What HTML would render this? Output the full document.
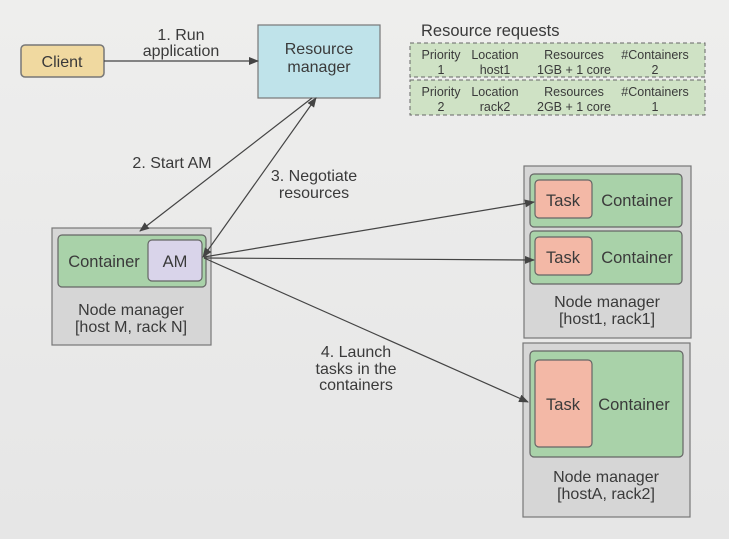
<!DOCTYPE html>
<html><head><style>
html,body{margin:0;padding:0;background:#ebebeb;}
svg{display:block;font-family:"Liberation Sans",sans-serif;}
</style></head><body>
<svg width="729" height="539" viewBox="0 0 729 539">
<defs>
<linearGradient id="bg" x1="0" y1="0" x2="0" y2="1"><stop offset="0" stop-color="#eeeeed"/><stop offset="1" stop-color="#e6e6e6"/></linearGradient>
<marker id="ar" markerWidth="10" markerHeight="8" refX="9" refY="4" orient="auto" markerUnits="userSpaceOnUse"><path d="M0,0 L10,4 L0,8 z" fill="#444"/></marker>
<marker id="as" markerWidth="10" markerHeight="8" refX="1" refY="4" orient="auto" markerUnits="userSpaceOnUse"><path d="M10,0 L0,4 L10,8 z" fill="#444"/></marker>
</defs>
<rect width="729" height="539" fill="url(#bg)"/>
<g font-size="16" fill="#3a3a3a" text-anchor="middle">
<rect x="21" y="45" width="83" height="32" rx="4" fill="#f0d9a0" stroke="#777" stroke-width="1.5"/>
<text x="62" y="67">Client</text>
<rect x="258" y="25" width="122" height="73" fill="#bfe3ea" stroke="#777" stroke-width="1.2"/>
<text x="319" y="54">Resource</text><text x="319" y="72">manager</text>
<line x1="104" y1="61" x2="258" y2="61" stroke="#444" stroke-width="1.2" marker-end="url(#ar)"/>
<text x="181" y="40">1. Run</text><text x="181" y="56">application</text>
<text x="421" y="36" text-anchor="start" font-size="16.5">Resource requests</text>
<g font-size="12.5">
<rect x="410" y="43" width="295" height="34" fill="#cfe2c5" stroke="#666" stroke-dasharray="4,3"/>
<rect x="410" y="80" width="295" height="35" fill="#cfe2c5" stroke="#666" stroke-dasharray="4,3"/>
<text x="441" y="59">Priority</text><text x="495" y="59">Location</text><text x="574" y="59">Resources</text><text x="655" y="59">#Containers</text>
<text x="441" y="74">1</text><text x="495" y="74">host1</text><text x="574" y="74">1GB + 1 core</text><text x="655" y="74">2</text>
<text x="441" y="96">Priority</text><text x="495" y="96">Location</text><text x="574" y="96">Resources</text><text x="655" y="96">#Containers</text>
<text x="441" y="111">2</text><text x="495" y="111">rack2</text><text x="574" y="111">2GB + 1 core</text><text x="655" y="111">1</text>
</g>
<rect x="52" y="228" width="159" height="117" fill="#d6d6d6" stroke="#777" stroke-width="1.2"/>
<rect x="58" y="235" width="148" height="52" rx="4" fill="#a9d2a9" stroke="#666" stroke-width="1.2"/>
<rect x="148" y="240" width="54" height="41" rx="4" fill="#d9d4ea" stroke="#666" stroke-width="1.2"/>
<text x="104" y="267" font-size="16.5">Container</text>
<text x="175" y="267" font-size="16.5">AM</text>
<text x="131" y="315">Node manager</text><text x="131" y="332">[host M, rack N]</text>
<rect x="524" y="166" width="167" height="172" fill="#d6d6d6" stroke="#777" stroke-width="1.2"/>
<rect x="530" y="174" width="152" height="53" rx="4" fill="#a9d2a9" stroke="#666" stroke-width="1.2"/>
<rect x="530" y="231" width="152" height="53" rx="4" fill="#a9d2a9" stroke="#666" stroke-width="1.2"/>
<rect x="535" y="180" width="57" height="38" rx="4" fill="#f3b8a6" stroke="#666" stroke-width="1.2"/>
<rect x="535" y="237" width="57" height="38" rx="4" fill="#f3b8a6" stroke="#666" stroke-width="1.2"/>
<text x="563" y="206" font-size="16.5">Task</text><text x="637" y="206" font-size="16.5">Container</text>
<text x="563" y="263" font-size="16.5">Task</text><text x="637" y="263" font-size="16.5">Container</text>
<text x="607" y="307">Node manager</text><text x="607" y="324">[host1, rack1]</text>
<rect x="523" y="343" width="167" height="174" fill="#d6d6d6" stroke="#777" stroke-width="1.2"/>
<rect x="530" y="351" width="153" height="106" rx="4" fill="#a9d2a9" stroke="#666" stroke-width="1.2"/>
<rect x="535" y="360" width="57" height="87" rx="4" fill="#f3b8a6" stroke="#666" stroke-width="1.2"/>
<text x="563" y="410" font-size="16.5">Task</text><text x="634" y="410" font-size="16.5">Container</text>
<text x="606" y="482">Node manager</text><text x="606" y="499">[hostA, rack2]</text>
<line x1="312" y1="98" x2="140" y2="231" stroke="#444" stroke-width="1.2" marker-end="url(#ar)"/>
<line x1="203" y1="257" x2="316" y2="98" stroke="#444" stroke-width="1.2" marker-end="url(#ar)" marker-start="url(#as)"/>
<line x1="204" y1="257" x2="534" y2="202" stroke="#444" stroke-width="1.2" marker-end="url(#ar)"/>
<line x1="204" y1="258" x2="534" y2="260" stroke="#444" stroke-width="1.2" marker-end="url(#ar)"/>
<line x1="204" y1="258" x2="528" y2="402" stroke="#444" stroke-width="1.2" marker-end="url(#ar)"/>
<text x="172" y="168">2. Start AM</text>
<text x="314" y="181">3. Negotiate</text><text x="314" y="198">resources</text>
<text x="356" y="357">4. Launch</text><text x="356" y="374">tasks in the</text><text x="356" y="390">containers</text>
</g>
</svg>
</body></html>
